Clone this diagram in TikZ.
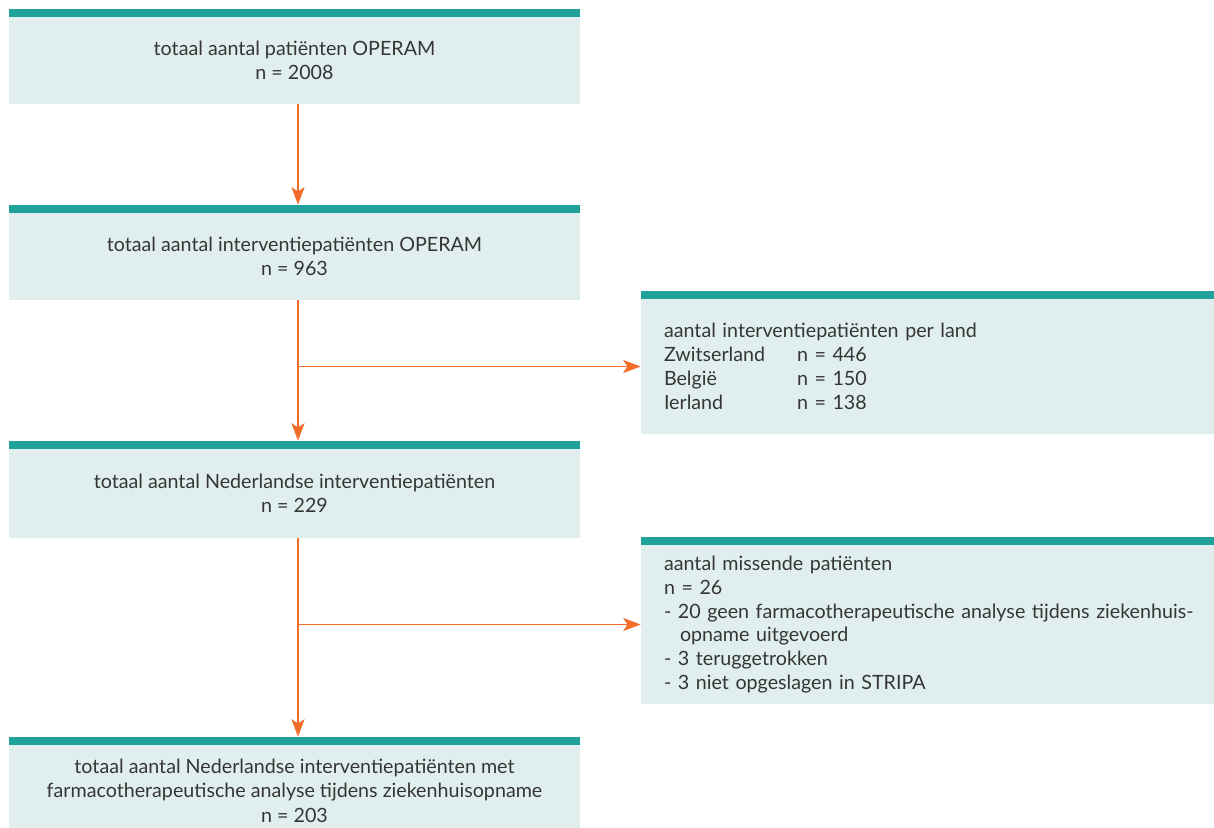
\documentclass[tikz,border=0pt]{standalone}
\usepackage{fontspec}
\setmainfont{Lato}
\usetikzlibrary{arrows.meta, positioning, calc}
\definecolor{barTeal}{HTML}{20A29A}
\definecolor{boxFill}{HTML}{E0EFEE}
\definecolor{flowOrange}{HTML}{F26C2A}
\definecolor{inkDark}{HTML}{353535}
\tikzset{
  mainbox/.style={fill=boxFill, minimum width=11.42cm, minimum height=1.74cm, inner sep=0pt,
                  align=center, text=inkDark, font=\fontsize{11.2}{13.9}\selectfont},
  sidebox/.style={fill=boxFill, minimum width=11.46cm, inner xsep=0.46cm, inner ysep=0pt,
                  text width=10.54cm, align=left, text=inkDark, font=\fontsize{11.2}{13.6}\selectfont},
  flow/.style={-{Stealth[length=10pt, width=7.5pt, inset=2.5pt]}, draw=flowOrange, line width=0.7pt},
}
\newcommand{\landcol}[1]{\makebox[2.66cm][l]{#1}}

\begin{document}
\begin{tikzpicture}
\useasboundingbox (0,0) rectangle (24.28,-16.54);
% left column
\node[mainbox] (total) at (5.89,-1.21) {totaal aantal patiënten OPERAM\\n = 2008};
\node[mainbox] (inter) at (5.89,-5.13) {totaal aantal interventiepatiënten OPERAM\\n = 963};
\node[mainbox, minimum height=1.78cm] (dutch) at (5.89,-9.87) {totaal aantal Nederlandse interventiepatiënten\\n = 229};
\node[mainbox, minimum height=1.82cm] (final) at (5.89,-15.81) {totaal aantal Nederlandse interventiepatiënten met\\farmacotherapeutische analyse tijdens ziekenhuisopname\\n = 203};
% right column
\node[sidebox, minimum height=2.7cm] (land) at (18.55,-7.33) {aantal interventiepatiënten per land\\
  \landcol{Zwitserland}n = 446\\
  \landcol{België}n = 150\\
  \landcol{Ierland}n = 138};
\node[sidebox, minimum height=3.18cm] (missing) at (18.55,-12.49) {aantal missende patiënten\\
  n = 26\\
  \mbox{- 20 geen farmacotherapeutische analyse tijdens ziekenhuis-}\\
  \hspace*{0.32cm}opname uitgevoerd\\
  - 3 teruggetrokken\\
  - 3 niet opgeslagen in STRIPA};
% teal bars
\foreach \b in {total, inter, dutch, final, land, missing}
  \fill[barTeal] (\b.north west) rectangle ([yshift=0.16cm]\b.north east);
% connectors
\draw[flow] ([xshift=0.07cm]total.south) -- ([xshift=0.07cm, yshift=0.16cm]inter.north);
\draw[flow] ([xshift=0.07cm]inter.south) -- ([xshift=0.07cm, yshift=0.16cm]dutch.north);
\draw[flow] ([xshift=0.07cm]dutch.south) -- ([xshift=0.07cm, yshift=0.16cm]final.north);
\draw[flow] ([xshift=0.07cm]inter.south |- land.west) -- (land.west);
\draw[flow] ([xshift=0.07cm]dutch.south |- missing.west) -- (missing.west);
\end{tikzpicture}
\end{document}
